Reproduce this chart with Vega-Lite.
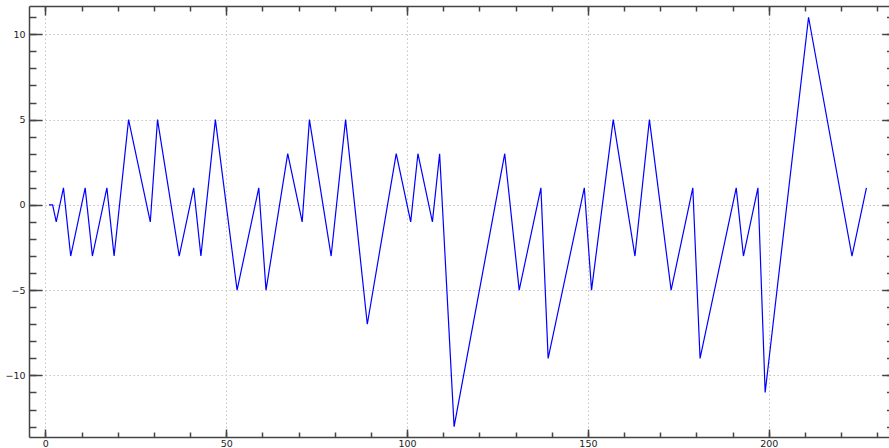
{
  "$schema": "https://vega.github.io/schema/vega-lite/v6.json",
  "width": 860,
  "height": 431,
  "autosize": "none",
  "padding": {"left": 29, "top": 6, "right": 0, "bottom": 11},
  "background": "white",
  "config": {
    "view": {"stroke": null},
    "axis": {
      "labelFont": "DejaVu Sans",
      "labelFontSize": 9.5,
      "labelColor": "#222222",
      "tickColor": "#444444",
      "domainColor": "#444444",
      "gridColor": "#c4c4c4",
      "gridDash": [1.5, 2.5],
      "gridWidth": 1,
      "tickWidth": 1.5,
      "domainWidth": 1.5,
      "title": null
    }
  },
  "data": {
    "values": [
      {"t": 1, "v": 0}, {"t": 2, "v": 0}, {"t": 3, "v": -1}, {"t": 5, "v": 1}, {"t": 7, "v": -3},
      {"t": 11, "v": 1}, {"t": 13, "v": -3}, {"t": 17, "v": 1}, {"t": 19, "v": -3}, {"t": 23, "v": 5},
      {"t": 29, "v": -1}, {"t": 31, "v": 5}, {"t": 37, "v": -3}, {"t": 41, "v": 1}, {"t": 43, "v": -3},
      {"t": 47, "v": 5}, {"t": 53, "v": -5}, {"t": 59, "v": 1}, {"t": 61, "v": -5}, {"t": 67, "v": 3},
      {"t": 71, "v": -1}, {"t": 73, "v": 5}, {"t": 79, "v": -3}, {"t": 83, "v": 5}, {"t": 89, "v": -7},
      {"t": 97, "v": 3}, {"t": 101, "v": -1}, {"t": 103, "v": 3}, {"t": 107, "v": -1}, {"t": 109, "v": 3},
      {"t": 113, "v": -13}, {"t": 127, "v": 3}, {"t": 131, "v": -5}, {"t": 137, "v": 1}, {"t": 139, "v": -9},
      {"t": 149, "v": 1}, {"t": 151, "v": -5}, {"t": 157, "v": 5}, {"t": 163, "v": -3}, {"t": 167, "v": 5},
      {"t": 173, "v": -5}, {"t": 179, "v": 1}, {"t": 181, "v": -9}, {"t": 191, "v": 1}, {"t": 193, "v": -3},
      {"t": 197, "v": 1}, {"t": 199, "v": -11}, {"t": 211, "v": 11}, {"t": 223, "v": -3}, {"t": 227, "v": 1}
    ]
  },
  "resolve": {"axis": {"x": "independent", "y": "independent"}},
  "layer": [
    {
      "mark": {"type": "line", "color": "#0000ff", "strokeWidth": 1.2},
      "encoding": {
        "x": {"field": "t", "type": "quantitative",
          "scale": {"domain": [-4.53, 233.24], "nice": false, "zero": false},
          "axis": {"orient": "bottom", "values": [0, 50, 100, 150, 200], "grid": true, "ticks": false, "tickSize": 0, "domain": true, "labels": true, "labelPadding": 1.5, "labelBaseline": "top", "labelFlush": false, "zindex": 0}},
        "y": {"field": "v", "type": "quantitative",
          "scale": {"domain": [-13.61, 11.66], "nice": false, "zero": false},
          "axis": {"orient": "left", "values": [-10, -5, 0, 5, 10], "grid": true, "ticks": false, "tickSize": 0, "domain": true, "labels": true, "labelPadding": 4, "labelFlush": false, "zindex": 0}}
      }
    },
    {
      "mark": {"type": "line", "opacity": 0},
      "encoding": {
        "x": {"field": "t", "type": "quantitative",
          "scale": {"domain": [-4.53, 233.24], "nice": false, "zero": false},
          "axis": {"orient": "bottom", "values": [0, 50, 100, 150, 200], "grid": false, "ticks": true, "tickSize": -8, "domain": false, "labels": false, "zindex": 1}},
        "y": {"field": "v", "type": "quantitative",
          "scale": {"domain": [-13.61, 11.66], "nice": false, "zero": false},
          "axis": {"orient": "left", "values": [-10, -5, 0, 5, 10], "grid": false, "ticks": true, "tickSize": -13, "domain": false, "labels": false, "zindex": 1}}
      }
    },
    {
      "mark": {"type": "line", "opacity": 0},
      "encoding": {
        "x": {"field": "t", "type": "quantitative",
          "scale": {"domain": [-4.53, 233.24], "nice": false, "zero": false},
          "axis": {"orient": "bottom", "values": [0, 10, 20, 30, 40, 50, 60, 70, 80, 90, 100, 110, 120, 130, 140, 150, 160, 170, 180, 190, 200, 210, 220, 230], "grid": false, "ticks": true, "tickSize": -5, "domain": false, "labels": false, "zindex": 1}},
        "y": {"field": "v", "type": "quantitative",
          "scale": {"domain": [-13.61, 11.66], "nice": false, "zero": false},
          "axis": {"orient": "left", "values": [-13, -12, -11, -10, -9, -8, -7, -6, -5, -4, -3, -2, -1, 0, 1, 2, 3, 4, 5, 6, 7, 8, 9, 10, 11], "grid": false, "ticks": true, "tickSize": -7, "domain": false, "labels": false, "zindex": 1}}
      }
    },
    {
      "mark": {"type": "line", "opacity": 0},
      "encoding": {
        "x": {"field": "t", "type": "quantitative",
          "scale": {"domain": [-4.53, 233.24], "nice": false, "zero": false},
          "axis": {"orient": "top", "values": [0, 50, 100, 150, 200], "grid": false, "ticks": true, "tickSize": -9, "domain": true, "labels": false, "zindex": 1}},
        "y": {"field": "v", "type": "quantitative",
          "scale": {"domain": [-13.61, 11.66], "nice": false, "zero": false},
          "axis": {"orient": "right", "values": [-10, -5, 0, 5, 10], "grid": false, "ticks": true, "tickSize": -7.3, "domain": false, "labels": false, "zindex": 1}}
      }
    },
    {
      "mark": {"type": "line", "opacity": 0},
      "encoding": {
        "x": {"field": "t", "type": "quantitative",
          "scale": {"domain": [-4.53, 233.24], "nice": false, "zero": false},
          "axis": {"orient": "top", "values": [0, 10, 20, 30, 40, 50, 60, 70, 80, 90, 100, 110, 120, 130, 140, 150, 160, 170, 180, 190, 200, 210, 220, 230], "grid": false, "ticks": true, "tickSize": -5, "domain": false, "labels": false, "zindex": 1}},
        "y": {"field": "v", "type": "quantitative",
          "scale": {"domain": [-13.61, 11.66], "nice": false, "zero": false},
          "axis": {"orient": "right", "values": [-13, -12, -11, -10, -9, -8, -7, -6, -5, -4, -3, -2, -1, 0, 1, 2, 3, 4, 5, 6, 7, 8, 9, 10, 11], "grid": false, "ticks": true, "tickSize": -2.5, "domain": false, "labels": false, "zindex": 1}}
      }
    }
  ]
}
